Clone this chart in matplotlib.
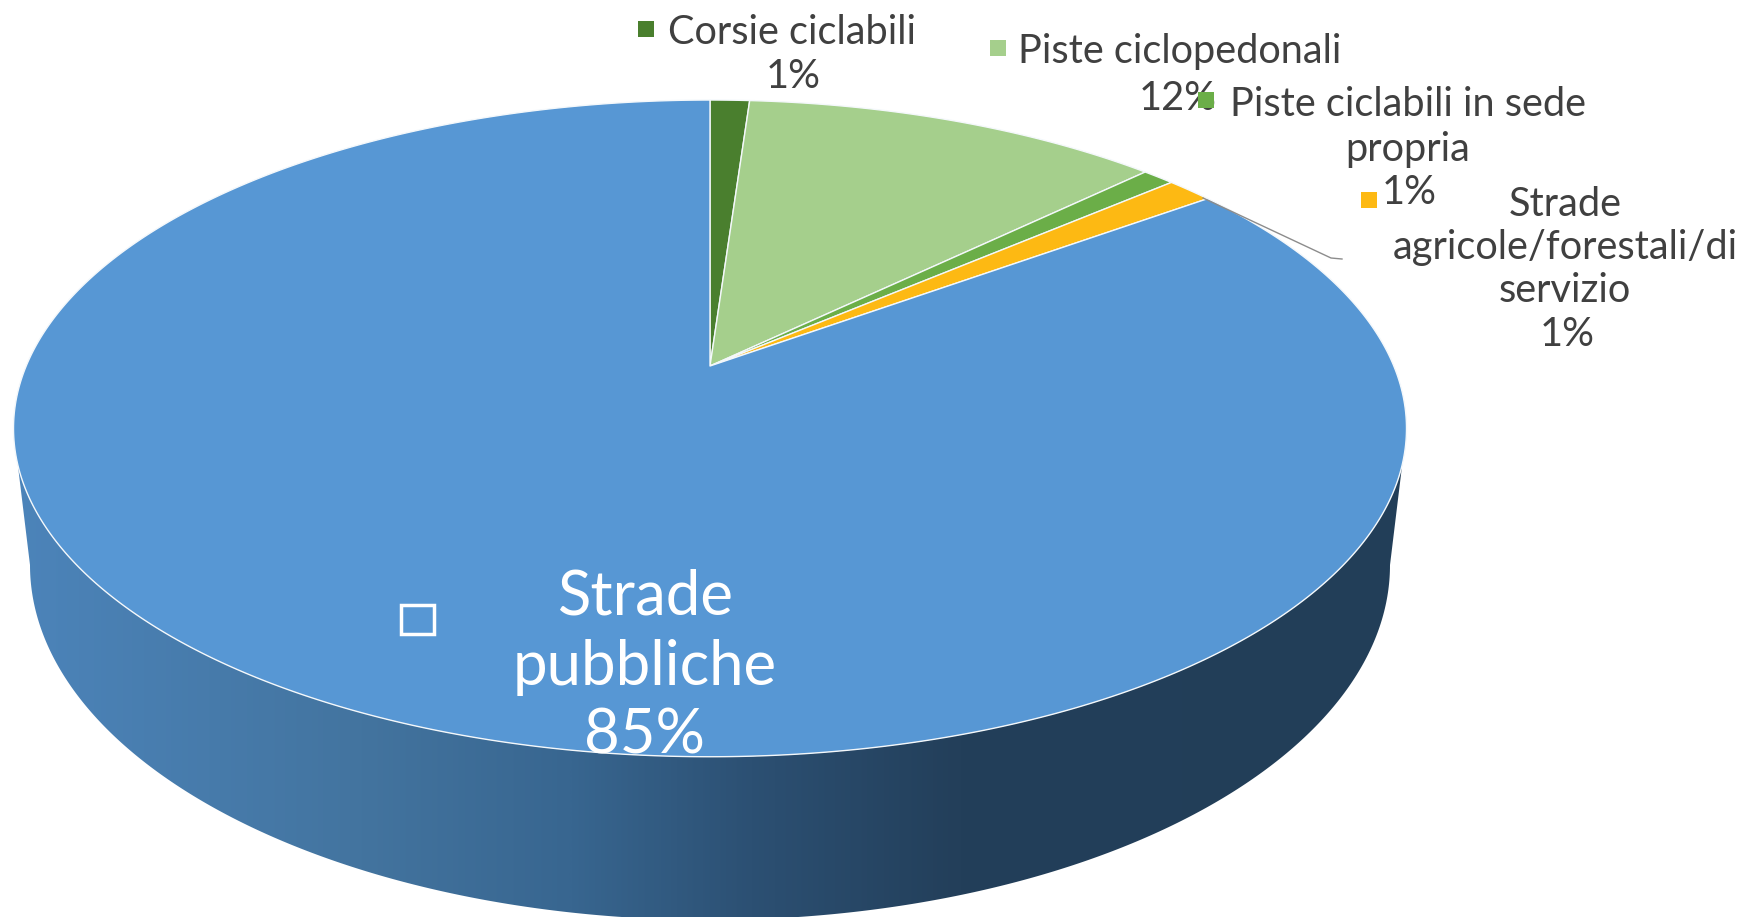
import numpy as np
import matplotlib
matplotlib.use("Agg")
import matplotlib.pyplot as plt
from matplotlib.colors import LinearSegmentedColormap
from matplotlib.patches import Polygon, Rectangle

# Data (slice shares in %, clockwise from 12 o'clock)
categories = ["Corsie ciclabili", "Piste ciclopedonali", "Piste ciclabili in sede propria",
              "Strade agricole/forestali/di servizio", "Strade pubbliche"]
shares = [1.1, 11.7, 0.9, 1.3, 85.0]
shown_labels = ["1%", "12%", "1%", "1%", "85%"]
colors = ["#4A7F2E", "#A5CF8C", "#6BAE48", "#FDB913", "#5797D4"]

W, H = 1747, 917
plt.rcParams["font.family"] = ["Lato", "DejaVu Sans"]
fig = plt.figure(figsize=(W / 100, H / 100), dpi=100, facecolor="white")
ax = fig.add_axes([0, 0, 1, 1])
ax.set_xlim(0, W)
ax.set_ylim(H, 0)
ax.axis("off")

# Perspective mapping of the unit disc to the top face
CX, AY = 710.0, 366.0
K, A, B = 0.19, 683.8, 316.5


def project(u, v):
    d = 1 + K * v
    return CX + A * u / d, AY - B * v / d


# Side wall
bx, by, ba, bb = 710.0, 565.0, 680.0, 355.0
t = np.linspace(0, 2 * np.pi, 720)
tx, ty = project(np.sin(t), np.cos(t))
front = ty >= 462
order = np.argsort(tx[front])
top_edge = np.c_[tx[front][order], ty[front][order]]
bt = np.linspace(np.pi, 0, 360)
bottom_edge = np.c_[bx + ba * np.cos(bt), by + bb * np.sin(bt)]
wall = Polygon(np.vstack([top_edge, bottom_edge[::-1]]), closed=True, transform=ax.transData,
               fc="none", ec="none")
ax.add_patch(wall)
wall_cmap = LinearSegmentedColormap.from_list(
    "wall", [(0, "#4C84BA"), (0.25, "#43749F"), (0.40, "#386690"),
             (0.53, "#2C5073"), (0.68, "#233F5A"), (1, "#223E58")])
im = ax.imshow(np.linspace(0, 1, 512)[None, :], extent=[13, 1406, 940, 440], cmap=wall_cmap,
               aspect="auto", zorder=1)
im.set_clip_path(wall)
ax.set_xlim(0, W)
ax.set_ylim(H, 0)

# Top-face slices
edges = np.cumsum([0] + shares) / sum(shares) * 2 * np.pi
for s, e, c in zip(edges[:-1], edges[1:], colors):
    th = np.linspace(s, e, max(int((e - s) * 120), 6))
    px, py = project(np.sin(th), np.cos(th))
    verts = np.vstack([[CX, AY], np.c_[px, py]])
    ax.add_patch(Polygon(verts, closed=True, fc=c, ec="#F4F8FB", lw=1.0, zorder=3, joinstyle="round"))

TXT = "#404040"
fs = 28.6
def label(x, y, s, color=TXT, size=fs, ha="center"):
    ax.text(x, y + 3, s, color=color, fontsize=size, ha=ha, va="center", zorder=5)


def key(x, y, c, z=6):
    ax.add_patch(Rectangle((x - 8, y - 8), 16, 16, fc=c, ec="none", zorder=z))


# Corsie ciclabili
key(646, 29, colors[0])
label(792, 30, categories[0])
label(793, 73, shown_labels[0])
# Piste ciclopedonali
key(998, 48, colors[1])
label(1180, 49, categories[1])
label(1178, 95, shown_labels[1])
# Piste ciclabili in sede propria
key(1206, 100, colors[2])
label(1408, 101, "Piste ciclabili in sede")
label(1408, 146, "propria")
label(1409, 189, shown_labels[2])
key(1369, 200, colors[3])
# Strade agricole
label(1565, 202, "Strade")
label(1565, 245, "agricole/forestali/di")
label(1565, 288, "servizio")
label(1567, 331, shown_labels[3])
ax.plot([1203, 1331, 1342], [198, 258, 259], color="#8C8C8C", lw=1, zorder=4)
# Strade pubbliche
label(645, 594, "Strade", color="white", size=44.5)
label(645, 664, "pubbliche", color="white", size=44.5)
label(645, 733, shown_labels[4], color="white", size=44.5)
ax.add_patch(Rectangle((401, 605), 33, 29, fc="none", ec="white", lw=2.5, zorder=6))

fig.savefig("out.png", dpi=100, facecolor="white")
